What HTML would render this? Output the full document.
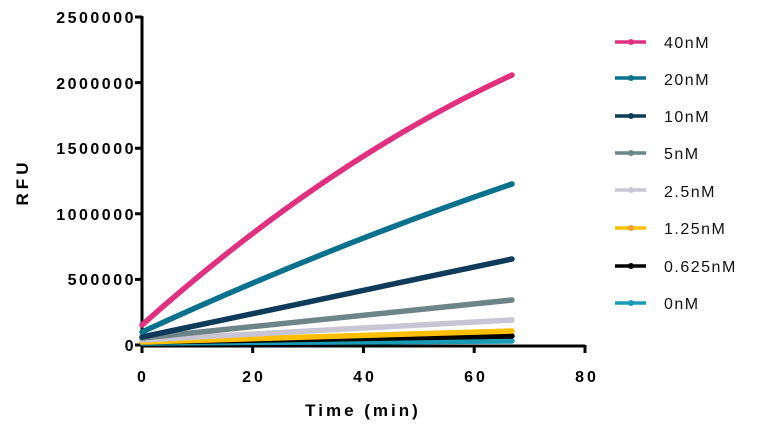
<!DOCTYPE html>
<html><head><style>body{margin:0;background:#fff}svg{display:block}</style></head><body>
<svg width="771" height="438" xmlns="http://www.w3.org/2000/svg" font-family="Liberation Sans, Arial, sans-serif">
<g stroke="#000" stroke-width="3" fill="none">
<path d="M142,16V346H585"/>
<path d="M135,17H142M135,82.6H142M135,148.2H142M135,213.8H142M135,279.4H142M135,345H142"/>
<path d="M142,345V353M252.7,345V353M363.5,345V353M474.2,345V353M585,345V353"/>
</g>
<g font-size="16" font-weight="bold" text-anchor="end" letter-spacing="2.5">
<text x="136" y="23">2500000</text><text x="136" y="89">2000000</text><text x="136" y="154">1500000</text><text x="136" y="220">1000000</text><text x="136" y="285">500000</text><text x="136" y="351">0</text>
</g>
<g font-size="16" font-weight="bold" text-anchor="middle" letter-spacing="3">
<text x="143" y="382">0</text><text x="254" y="382">20</text><text x="365" y="382">40</text><text x="476" y="382">60</text><text x="587" y="382">80</text>
<text x="363" y="416" font-size="17" letter-spacing="3">Time (min)</text>
<text transform="translate(28,182) rotate(-90)" font-size="17" letter-spacing="4">RFU</text>
</g>
<g fill="none" stroke-width="5.5" stroke-linecap="round">
<path d="M142,343 L512,341" stroke="#1a9bb5"/>
<path d="M142,342 L512,336" stroke="#000"/>
<path d="M142,342 L512,331" stroke="#fdbf00"/>
<path d="M142,340 L512,320" stroke="#c8c6d4"/>
<path d="M142,338 L512,300" stroke="#6d8488"/>
<path d="M142,337 L512,259" stroke="#0e3b5a"/>
<path d="M142,332 Q327,247 512,184" stroke="#08718e"/>
<path d="M142,325 Q327,160 512,75" stroke="#e0307f"/>
</g>
<g stroke-width="3.5">
<line x1="615" x2="646" y1="42" y2="42" stroke="#e0307f"/>
<line x1="615" x2="646" y1="78" y2="78" stroke="#08718e"/>
<line x1="615" x2="646" y1="116" y2="116" stroke="#0e3b5a"/>
<line x1="615" x2="646" y1="153" y2="153" stroke="#6d8488"/>
<line x1="615" x2="646" y1="190" y2="190" stroke="#c8c6d4"/>
<line x1="615" x2="646" y1="228" y2="228" stroke="#fdbf00"/>
<line x1="615" x2="646" y1="266" y2="266" stroke="#000"/>
<line x1="615" x2="646" y1="303" y2="303" stroke="#1a9bb5"/>
</g>
<g>
<circle cx="631" cy="42" r="3" fill="#e0307f"/>
<circle cx="631" cy="78" r="3" fill="#08718e"/>
<circle cx="631" cy="116" r="3" fill="#0e3b5a"/>
<circle cx="631" cy="153" r="3" fill="#6d8488"/>
<circle cx="631" cy="190" r="3" fill="#c8c6d4"/>
<circle cx="631" cy="228" r="3" fill="#f0a030"/>
<circle cx="631" cy="266" r="3" fill="#000"/>
<circle cx="631" cy="303" r="3" fill="#1a9bb5"/>
</g>
<g font-size="16" letter-spacing="1.5" fill="#111">
<text x="664" y="48">40nM</text><text x="664" y="85">20nM</text><text x="664" y="122">10nM</text><text x="664" y="159">5nM</text><text x="664" y="197">2.5nM</text><text x="664" y="234">1.25nM</text><text x="664" y="272">0.625nM</text><text x="664" y="309">0nM</text>
</g>
</svg>
</body></html>
